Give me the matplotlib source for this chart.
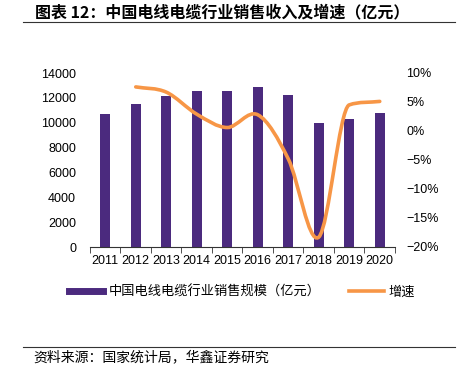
import numpy as np
import matplotlib
matplotlib.use("Agg")
import matplotlib.pyplot as plt
from matplotlib.path import Path
from matplotlib.patches import PathPatch
from matplotlib.lines import Line2D
from matplotlib.ticker import FuncFormatter

plt.rcParams['font.family'] = ['Liberation Sans', 'Noto Sans CJK SC', 'DejaVu Sans']
plt.rcParams['axes.unicode_minus'] = True

years = ["2011", "2012", "2013", "2014", "2015", "2016", "2017", "2018", "2019", "2020"]
sales = [10680, 11480, 12150, 12530, 12580, 12900, 12200, 9950, 10270, 10800]
growth_years = years[1:]
growth = [7.6, 6.7, 2.9, 0.6, 2.8, -4.8, -18.3, 4.5, 5.1]

PURPLE = "#4B2A7E"
ORANGE = "#F79646"
CJK = ['Noto Sans CJK SC', 'DejaVu Sans']

fig = plt.figure(figsize=(4.6, 3.72), dpi=100)
W, H = 460, 372
ax = fig.add_axes([90 / W, 1 - 247 / H, 305 / W, 174 / H])
ax2 = ax.twinx()

x = np.arange(len(years))
ax.bar(x, sales, width=0.33, color=PURPLE, zorder=2)
ax.set_xlim(-0.5, len(years) - 0.5)
ax.set_ylim(0, 14000)
ax.set_yticks(range(0, 14001, 2000))
ax.set_xticks(x)
ax.set_xticklabels(years, fontsize=9)
ax.set_xticks(np.arange(-0.5, len(years)), minor=True)
ax.tick_params(axis='x', which='major', length=0, pad=6)
ax.tick_params(axis='x', which='minor', length=4, direction='out', color='#333333')
ax.tick_params(axis='y', length=0, labelsize=9, pad=10)
for s in ["top", "right", "left"]:
    ax.spines[s].set_visible(False)
ax.spines["bottom"].set_color('#333333')
for s in ["top", "right", "left", "bottom"]:
    ax2.spines[s].set_visible(False)

# smooth growth line: Catmull-Rom tangents, damped where the curve would overshoot
gx = np.array([years.index(y) for y in growth_years], dtype=float)
gy = np.array(growth, dtype=float)
n = len(gx)
d = np.diff(gy) / np.diff(gx)
m = np.zeros(n)
m[0], m[-1] = d[0], d[-1]
for i in range(1, n - 1):
    m[i] = (gy[i + 1] - gy[i - 1]) / (gx[i + 1] - gx[i - 1])
    if d[i - 1] * d[i] > 0:
        a, b = m[i] / d[i - 1], m[i] / d[i]
        r = np.hypot(a, b)
        if r > 3:
            m[i] *= 3 / r
verts = [(gx[0], gy[0])]
codes = [Path.MOVETO]
for i in range(n - 1):
    h = gx[i + 1] - gx[i]
    verts += [(gx[i] + h / 3, gy[i] + m[i] * h / 3),
              (gx[i + 1] - h / 3, gy[i + 1] - m[i + 1] * h / 3),
              (gx[i + 1], gy[i + 1])]
    codes += [Path.CURVE4] * 3
ax2.add_patch(PathPatch(Path(verts, codes), fill=False, edgecolor=ORANGE,
                        lw=2.6, capstyle='round', zorder=3))
ax2.set_ylim(-20, 10)
ax2.set_yticks(range(-20, 11, 5))
ax2.yaxis.set_major_formatter(FuncFormatter(lambda v, p: f"{int(v)}%".replace("-", "\u2212")))
ax2.tick_params(axis='y', length=0, labelsize=9, pad=8)

# title and rules
fig.text(35 / W, 1 - 12 / H, "图表 12：中国电线电缆行业销售收入及增速（亿元）",
         fontsize=11.5, fontweight='bold', va='center', ha='left', family=CJK)
fig.add_artist(Line2D([23 / W, 455 / W], [1 - 22 / H, 1 - 22 / H], color='#333333', lw=0.8))
fig.add_artist(Line2D([23 / W, 455 / W], [1 - 347 / H, 1 - 347 / H], color='#333333', lw=0.8))
fig.text(33 / W, 1 - 357 / H, "资料来源：国家统计局，华鑫证券研究", fontsize=10,
         va='center', ha='left', family=CJK)

handles = [Line2D([], [], color=PURPLE, lw=5), Line2D([], [], color=ORANGE, lw=2.6)]
fig.legend(handles, ["中国电线电缆行业销售规模（亿元）", "增速"], loc='center',
           bbox_to_anchor=(242 / W, 1 - 292 / H), ncol=2, frameon=False,
           prop={'family': CJK, 'size': 9.5},
           handlelength=2.6, columnspacing=2.2, handletextpad=0.4)

fig.savefig("out.png", dpi=100)
